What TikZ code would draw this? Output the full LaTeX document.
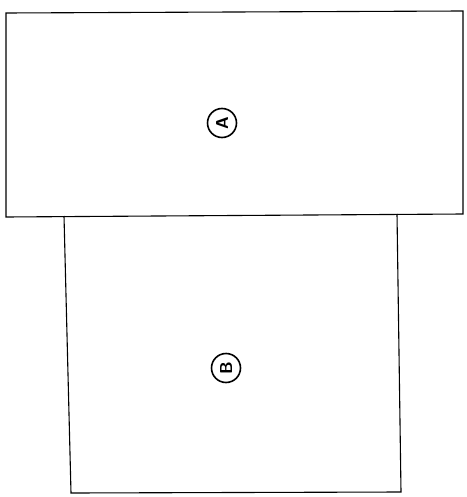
\documentclass[tikz,border=0pt]{standalone}
\begin{document}
\begin{tikzpicture}[x=1pt,y=-1pt,
  sketch/.style={draw=black,line width=1.1pt,line join=miter},
  tag/.style={circle,draw=black,line width=1.6pt,inner sep=0pt,minimum size=29pt,font=\LARGE\sffamily\bfseries}]
\useasboundingbox (0,0) rectangle (466,497);
\coordinate (a1) at (6,13);
\coordinate (a2) at (463,11);
\coordinate (a3) at (463,214);
\coordinate (a4) at (6,217);
\draw[sketch] (a1) -- (a2) -- (a3) -- (a4) -- cycle;
\coordinate (b1) at (64,216);
\coordinate (b2) at (397,214);
\coordinate (b3) at (401,492);
\coordinate (b4) at (71,493);
\draw[sketch] (b1) -- (b4) -- (b3) -- (b2);
\node[tag] (A) at (222,123) {\rotatebox{90}{A}};
\node[tag] (B) at (226,368) {\rotatebox{90}{B}};
\end{tikzpicture}
\end{document}
